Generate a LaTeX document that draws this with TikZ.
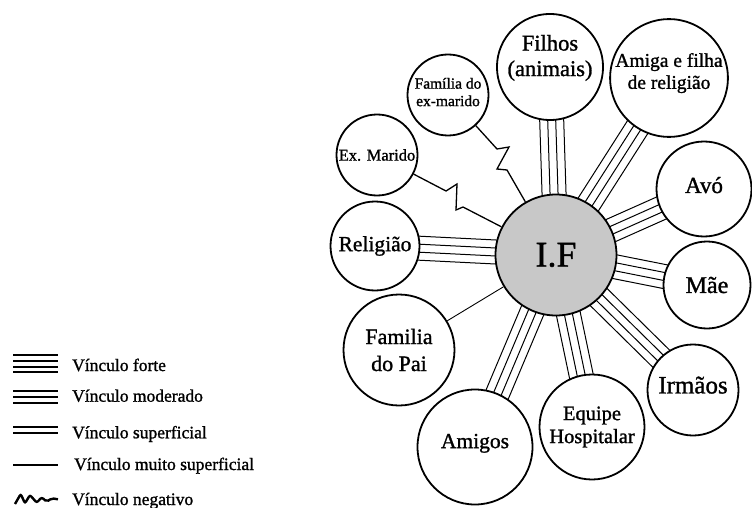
\documentclass[tikz,border=0pt]{standalone}
\usepackage{fontspec}
\setmainfont{Liberation Serif}[FakeBold=1.2]
\usepackage{xcolor}
\usetikzlibrary{calc, backgrounds}
\definecolor{ifgray}{RGB}{200,200,200}

\begin{document}
\begin{tikzpicture}[x=1pt, y=-1pt,
        pessoa/.style={circle, draw, line width=1.8pt, fill=white, inner sep=0pt, align=center},
        forte/.style={line width=1pt},
        fraco/.style={line width=0.9pt},
        negativo/.style={line width=1.3pt, line join=miter},
        chave/.style={line width=2pt},
        legenda/.style={anchor=base west, inner sep=0pt, font=\fontsize{17.5}{20}\selectfont}]

        \useasboundingbox (0,0) rectangle (752,508);

        \node[pessoa, fill=ifgray, minimum size=121pt, font=\fontsize{36}{40}\selectfont] (if) at (556,255) {I.F};
        \node[pessoa, minimum size=103pt, text depth=23pt, font=\fontsize{22.5}{25.5}\selectfont] (filhos) at (550,67) {Filhos\\(animais)};
        \node[pessoa, minimum size=117pt, text depth=14pt, font=\fontsize{19.5}{22}\selectfont]   (amiga)  at (669,78) {Amiga e filha\\de religião};
        \node[pessoa, minimum size=81pt,  text depth=6pt,  font=\fontsize{15.5}{17.5}\selectfont] (famex)  at (448,95) {Família do\\ex-marido};
        \node[pessoa, minimum size=81pt,  font=\fontsize{16.5}{19}\selectfont]   (exmarido) at (377,155) {Ex. Marido};
        \node[pessoa, minimum size=89pt,  font=\fontsize{21.5}{24}\selectfont]   (religiao) at (375,246) {Religião};
        \node[pessoa, minimum size=111pt, font=\fontsize{22}{27}\selectfont]     (fampai)   at (399,350) {Familia\\do Pai};
        \node[pessoa, minimum size=115pt, text depth=12pt, font=\fontsize{21.5}{24}\selectfont] (amigos) at (475,447) {Amigos};
        \node[pessoa, minimum size=105pt, font=\fontsize{20.5}{23}\selectfont]   (equipe)   at (592,427) {Equipe\\Hospitalar};
        \node[pessoa, minimum size=91pt,  text depth=10pt, font=\fontsize{25}{28}\selectfont] (irmaos) at (693,390) {Irmãos};
        \node[pessoa, minimum size=87pt,  font=\fontsize{24}{27}\selectfont]     (mae)      at (707,285) {Mãe};
        \node[pessoa, minimum size=95pt,  text depth=8pt, font=\fontsize{23}{26}\selectfont] (avo) at (704,189) {Avó};

        % vinculos fortes (4 linhas)
        \begin{scope}[on background layer]
          \foreach \vizinho in {filhos, amiga, avo, mae, irmaos, equipe, amigos, religiao}
            \foreach \desvio in {-12,-4,4,12}
              \draw[forte] ($(if)!\desvio pt!90:(\vizinho)$) -- ($(\vizinho)!\desvio pt!-90:(if)$);
        \end{scope}

        % Familia do Pai
        \draw[fraco] (if) -- (fampai);

        % vinculos negativos
        \draw[negativo] (exmarido) -- (446,191) -- (457,184) -- (456,210) -- (463,207) -- (if);
        \draw[negativo] (famex) -- (497,149) -- (509,147) -- (497,169) -- (507,170) -- (if);

        % legenda
        \foreach \y in {355.3,361,366.7,372.3}
          \draw[chave] (13,\y) -- (58,\y);
        \node[legenda] (lforte) at (72,371) {Vínculo forte};
        \foreach \y in {391.3,397,402.7}
          \draw[chave] (13,\y) -- (58,\y);
        \node[legenda] (lmoderado) at (72,401.7) {Vínculo moderado};
        \foreach \y in {427.3,433}
          \draw[chave] (13,\y) -- (58,\y);
        \node[legenda] (lsuperficial) at (72,438.3) {Vínculo superficial};
        \draw[chave] (13,465) -- (58,465);
        \node[legenda] (lmuito) at (74,470) {Vínculo muito superficial};
        \draw[chave, line width=2.4pt, rounded corners=2pt] (15,504) -- (20.7,494) -- (25,503.3) -- (30,495) -- (36.7,502.7)
          -- (41.7,497.3) -- (46.7,501.7) -- (51.7,498.3) -- (58,499.3);
        \node[legenda] (lnegativo) at (72,505) {Vínculo negativo};
      \end{tikzpicture}
\end{document}
